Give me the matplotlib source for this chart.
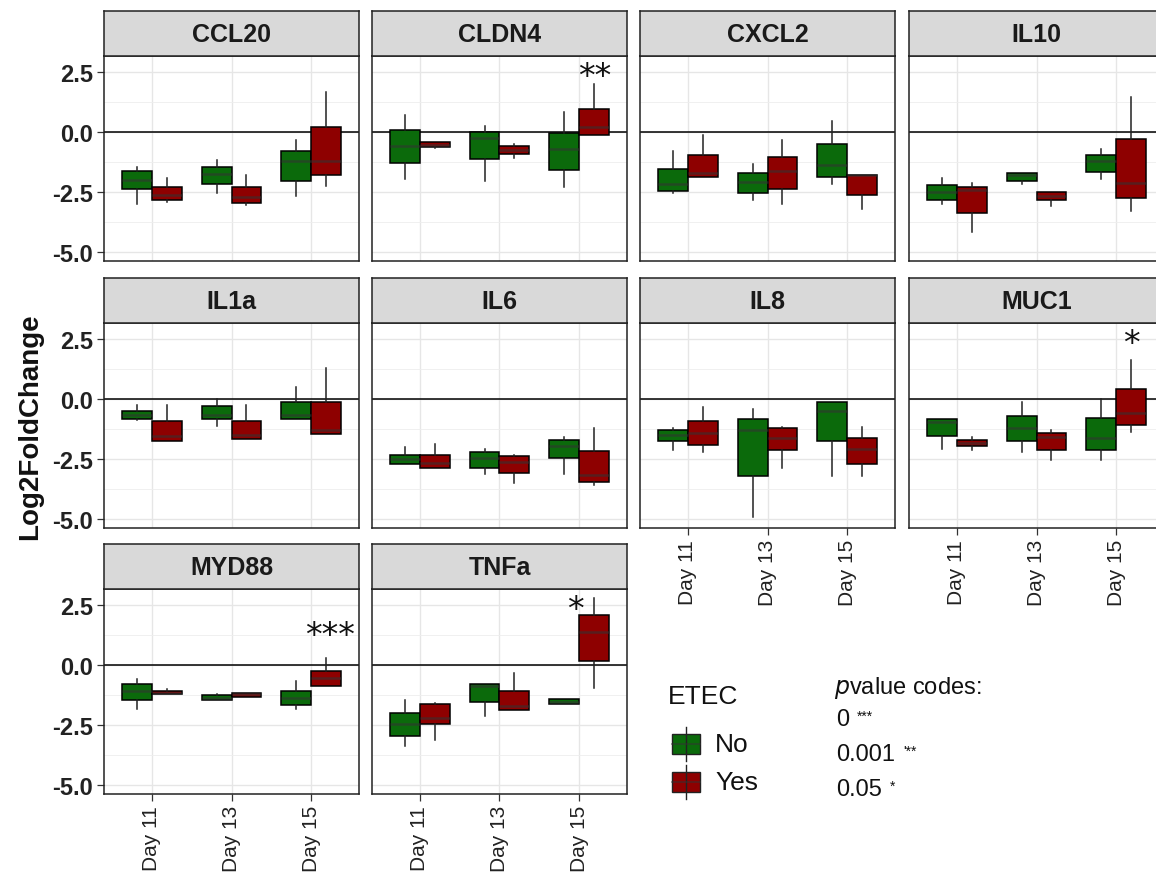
import matplotlib
matplotlib.use("Agg")
import matplotlib.pyplot as plt
from matplotlib.patches import Rectangle
from matplotlib.lines import Line2D

plt.rcParams["font.family"] = ["Liberation Sans", "DejaVu Sans"]

genes = ["CCL20", "CLDN4", "CXCL2", "IL10", "IL1a", "IL6", "IL8", "MUC1", "MYD88", "TNFa"]
days = ["Day 11", "Day 13", "Day 15"]
groups = ["No", "Yes"]
colors = {"No": "#0b6a0b", "Yes": "#8e0000"}

# per gene: boxes in order D11 No, D11 Yes, D13 No, D13 Yes, D15 No, D15 Yes
whis_lo = [
    [-2.98, -2.90, -2.54, -3.04, -2.68, -2.23],
    [-1.95, -0.68, -2.03, -1.06, -2.30, -0.14],
    [-2.54, -1.85, -2.84, -2.98, -2.16, -3.22],
    [-3.01, -4.17, -2.18, -3.08, -1.95, -3.29],
    [-0.88, -1.75, -1.11, -1.68, -0.81, -1.46],
    [-2.71, -2.85, -3.10, -3.51, -3.10, -3.58],
    [-2.13, -2.19, -4.93, -2.85, -3.21, -3.21],
    [-2.06, -2.13, -2.19, -2.54, -2.54, -1.39],
    [-1.81, -1.22, -1.46, -1.32, -1.82, -0.88],
    [-3.35, -3.13, -2.10, -1.89, -1.60, -0.94],
]
q1 = [
    [-2.37, -2.82, -2.16, -2.97, -2.02, -1.78],
    [-1.27, -0.62, -1.13, -0.90, -1.57, -0.14],
    [-2.44, -1.85, -2.54, -2.37, -1.85, -2.61],
    [-2.82, -3.36, -2.03, -2.84, -1.67, -2.75],
    [-0.81, -1.75, -0.81, -1.68, -0.81, -1.46],
    [-2.71, -2.85, -2.85, -3.07, -2.47, -3.44],
    [-1.75, -1.92, -3.21, -2.13, -1.75, -2.71],
    [-1.54, -1.96, -1.75, -2.13, -2.13, -1.08],
    [-1.46, -1.22, -1.46, -1.32, -1.68, -0.88],
    [-2.96, -2.47, -1.53, -1.89, -1.60, 0.17],
]
med = [
    [-2.00, -2.60, -1.75, -2.70, -1.21, -1.21],
    [-0.56, -0.54, -0.23, -0.75, -0.72, 0.20],
    [-2.16, -1.71, -2.09, -1.60, -1.38, -1.80],
    [-2.51, -2.40, -1.78, -2.66, -1.21, -2.12],
    [-0.67, -1.54, -0.67, -1.50, -0.67, -1.29],
    [-2.50, -2.68, -2.47, -2.61, -1.96, -3.17],
    [-1.50, -1.43, -1.30, -1.64, -0.50, -2.06],
    [-0.95, -1.82, -1.22, -1.57, -1.61, -0.56],
    [-1.08, -1.15, -1.36, -1.22, -1.36, -0.53],
    [-2.47, -2.20, -0.88, -1.71, -1.52, 1.38],
]
q3 = [
    [-1.62, -2.27, -1.45, -2.27, -0.80, 0.23],
    [0.08, -0.40, -0.01, -0.56, -0.03, 0.96],
    [-1.55, -0.96, -1.71, -1.03, -0.51, -1.78],
    [-2.20, -2.27, -1.69, -2.49, -0.96, -0.28],
    [-0.49, -0.92, -0.28, -0.92, -0.14, -0.14],
    [-2.31, -2.31, -2.22, -2.38, -1.71, -2.15],
    [-1.29, -0.92, -0.85, -1.22, -0.14, -1.60],
    [-0.85, -1.71, -0.69, -1.43, -0.78, 0.44],
    [-0.78, -1.06, -1.26, -1.15, -1.06, -0.25],
    [-1.99, -1.64, -0.78, -1.06, -1.43, 2.07],
]
whis_hi = [
    [-1.45, -1.91, -1.17, -1.77, -0.35, 1.65],
    [0.73, -0.40, 0.24, -0.49, 0.83, 2.00],
    [-0.79, -0.14, -1.31, -0.35, 0.48, -1.78],
    [-1.91, -2.13, -1.69, -2.49, -0.72, 1.48],
    [-0.25, -0.25, 0.00, -0.25, 0.49, 1.28],
    [-1.99, -1.85, -2.06, -2.31, -1.57, -1.19],
    [-1.22, -0.32, -0.42, -1.15, -0.14, -1.15],
    [-0.85, -1.57, -0.11, -1.29, -0.01, 1.63],
    [-0.60, -0.99, -1.19, -1.15, -0.67, 0.28],
    [-1.47, -1.57, -0.78, -0.32, -1.43, 2.81],
]
# significance marks: gene -> (label, x position, y position)
signif = {
    "CLDN4": ("**", 3.2, 2.3),
    "MUC1": ("*", 3.19, 2.3),
    "MYD88": ("***", 3.24, 1.25),
    "TNFa": ("*", 2.95, 2.3),
}
pcodes = ["0", "0.001", "0.05"]
pstars = ["***", "'**", "*"]

W, H = 1156, 895
fig = plt.figure(figsize=(W / 100, H / 100), dpi=100)

col_left = [104, 372, 640, 909]
panel_w = 255
rows = [(57, 262), (324, 529), (590, 795)]
strip_h = 45


def fx(px):
    return px / W


def fy(py):
    return 1 - py / H


for gi, gene in enumerate(genes):
    r, c = divmod(gi, 4)
    top, bot = rows[r]
    left = col_left[c]
    ax = fig.add_axes([fx(left), fy(bot), panel_w / W, (bot - top) / H])

    stats = []
    positions = []
    for k in range(6):
        d, g = divmod(k, 2)
        stats.append(dict(med=med[gi][k], q1=q1[gi][k], q3=q3[gi][k],
                          whislo=whis_lo[gi][k], whishi=whis_hi[gi][k], fliers=[]))
        positions.append(d + 1 + (-0.1875 if g == 0 else 0.1875))
    res = ax.bxp(stats, positions=positions, widths=0.375, patch_artist=True,
                 showcaps=False, manage_ticks=False,
                 boxprops=dict(edgecolor="black", linewidth=1.1),
                 whiskerprops=dict(color="#222222", linewidth=1.1),
                 medianprops=dict(color="#333333", linewidth=1.8, alpha=0.6),
                 zorder=3)
    for k, b in enumerate(res["boxes"]):
        b.set_facecolor(colors[groups[k % 2]])

    ax.axhline(0, color="black", linewidth=1.1, zorder=2)
    ax.set_xlim(0.4, 3.6)
    ax.set_ylim(-5.37, 3.17)
    ax.set_yticks([-5, -2.5, 0, 2.5])
    ax.set_yticks([-3.75, -1.25, 1.25], minor=True)
    ax.set_xticks([1, 2, 3])
    ax.grid(True, which="major", color="#e6e6e6", linewidth=1.0, zorder=0)
    ax.grid(True, which="minor", axis="y", color="#eeeeee", linewidth=0.6, zorder=0)
    ax.set_axisbelow(True)
    for s in ax.spines.values():
        s.set_color("#222222")
        s.set_linewidth(1.1)
    ax.tick_params(which="minor", length=0)
    ax.tick_params(which="major", length=5, width=0.9, color="#333333", pad=3)

    if c == 0:
        ax.set_yticklabels(["-5.0", "-2.5", "0.0", "2.5"], fontsize=17,
                           fontweight="bold", color="#222222")
    else:
        ax.tick_params(axis="y", left=False, labelleft=False)
    bottom_panel = (r == 2) or (r == 1 and c >= 2)
    if bottom_panel:
        ax.set_xticklabels(days, rotation=90, fontsize=15, color="#222222")
    else:
        ax.tick_params(axis="x", bottom=False, labelbottom=False)

    if gene in signif:
        lab, sx, sy = signif[gene]
        ax.text(sx, sy, lab, ha="center", va="center", fontsize=24,
                family="DejaVu Sans", color="#111111", zorder=5)

    sax = fig.add_axes([fx(left), fy(top), panel_w / W, strip_h / H])
    sax.set_facecolor("#d9d9d9")
    sax.set_xticks([])
    sax.set_yticks([])
    for s in sax.spines.values():
        s.set_color("#222222")
        s.set_linewidth(1.1)
    sax.text(0.5, 0.48, gene, ha="center", va="center", fontsize=18,
             fontweight="bold", color="#1a1a1a", transform=sax.transAxes)

fig.text(fx(30), fy(427), "Log2FoldChange", rotation=90, ha="center", va="center",
         fontsize=20, fontweight="bold", color="#111111")

# legend for ETEC
fig.text(fx(668), fy(697), "ETEC", ha="left", va="center", fontsize=19, color="#111111")
for i, g in enumerate(groups):
    cy = 745 + i * 38
    fig.add_artist(Line2D([fx(686), fx(686)], [fy(cy - 17), fy(cy + 17)],
                          color="#222222", linewidth=1.0))
    fig.add_artist(Rectangle((fx(672), fy(cy + 10)), 28 / W, 20 / H,
                             facecolor=colors[g], edgecolor="#222222", linewidth=1.0))
    fig.add_artist(Line2D([fx(672), fx(700)], [fy(cy), fy(cy)],
                          color="#333333", linewidth=1.2, alpha=0.6))
    fig.text(fx(715), fy(cy), g, ha="left", va="center", fontsize=19, color="#111111")

# p-value codes
fig.text(fx(834), fy(688), r"$\mathit{p}$value codes:", ha="left", va="center",
         fontsize=17, color="#111111")
fig.canvas.draw()
renderer = fig.canvas.get_renderer()
for i, (num, st) in enumerate(zip(pcodes, pstars)):
    cy = 720 + i * 35
    t = fig.text(fx(836), fy(cy), num, ha="left", va="center", fontsize=17,
                 color="#111111")
    bb = t.get_window_extent(renderer=renderer)
    fig.text((bb.x1 + 8) / W, fy(cy - 3), st, ha="left", va="center",
             fontsize=10, color="#111111")

fig.savefig("out.png", dpi=100)
